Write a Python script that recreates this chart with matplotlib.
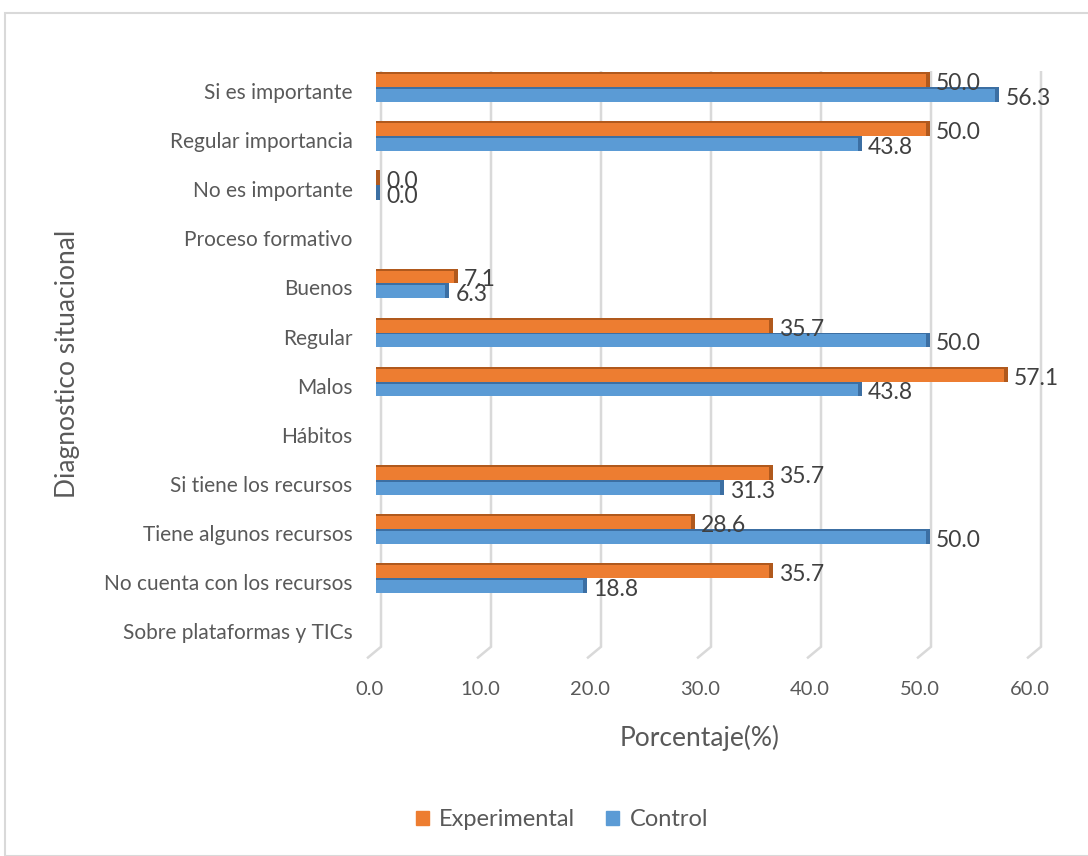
import numpy as np
import matplotlib
matplotlib.use("Agg")
import matplotlib.pyplot as plt
import matplotlib.transforms as mtrans
from matplotlib.patches import Rectangle, Patch

categories = ["Si es importante", "Regular importancia", "No es importante",
              "Proceso formativo", "Buenos", "Regular", "Malos", "Hábitos",
              "Si tiene los recursos", "Tiene algunos recursos",
              "No cuenta con los recursos", "Sobre plataformas y TICs"]
experimental = [50.0, 50.0, 0.0, np.nan, 7.1, 35.7, 57.1, np.nan, 35.7, 28.6, 35.7, np.nan]
control = [56.3, 43.8, 0.0, np.nan, 6.3, 50.0, 43.8, np.nan, 31.3, 50.0, 18.8, np.nan]
xticks = [0, 10, 20, 30, 40, 50, 60]

FONT = ["Lato", "DejaVu Sans"]
plt.rcParams['font.family'] = FONT

W, H = 1088, 856
fig = plt.figure(figsize=(W / 100, H / 100), dpi=100)
fig.patch.set_facecolor("white")

# chart border
fig.patches.append(Rectangle((5 / W, 0), 1.2, 1 - 13 / H, transform=fig.transFigure,
                             fill=False, edgecolor="#d9d9d9", linewidth=1.5, zorder=0))

x0, x60 = 376, 1036
yc0, step = 87, 49.1
top = yc0 - step / 2
bottom = yc0 + step * 11.5
ax = fig.add_axes([x0 / W, 1 - bottom / H, (x60 - x0) / W, (bottom - top) / H])
ax.set_xlim(0, 60)
ax.set_ylim(11.5, -0.5)
for s in ax.spines.values():
    s.set_visible(False)
ax.tick_params(length=0)

# gridlines with perspective foot
px = 60 / (x60 - x0)
for t in xticks:
    gx = t + 5 * px
    ax.plot([gx, gx, gx - 13 * px], [-0.3, 11.4, 11.62], color="#d9d9d9", lw=1.8,
            clip_on=False, zorder=0, solid_joinstyle="miter")

y = np.arange(len(categories))
bh = 0.30
exp = np.array(experimental)
ctl = np.array(control)
orange, orange_d = "#ed7d31", "#b0591d"
blue, blue_d = "#5b9bd5", "#3c6fa3"

side = 4 * px
for vals, col, dcol, off in [(exp, orange, orange_d, -bh), (ctl, blue, blue_d, 0.0)]:
    yy = y + off
    ax.barh(yy, vals, height=bh, align="edge", color=col, zorder=2)
    # top edge (3D)
    ax.barh(yy, vals, height=0.04, align="edge", color=dcol, zorder=3)
    # right side (3D)
    ax.barh(yy, np.full_like(vals, side), left=vals, height=bh, align="edge",
            color=dcol, zorder=3)
    for yi, v in zip(yy, vals):
        if np.isnan(v):
            continue
        ax.text(v + side + 6 * px, yi + bh / 2 + 0.08, f"{v:.1f}", va="center", ha="left",
                fontsize=16.5, color="#404040", zorder=4)

ax.set_yticks(y)
ax.set_yticklabels(categories, fontsize=15, color="#595959")
ax.tick_params(axis="y", pad=17)
for lab in ax.get_yticklabels():
    lab.set_transform(lab.get_transform() + mtrans.ScaledTranslation(0, -4 / 100, fig.dpi_scale_trans))

ax.set_xticks(xticks)
ax.set_xticklabels([f"{t:.1f}" for t in xticks], fontsize=14.5, color="#595959")
ax.tick_params(axis="x", pad=21)
for lab in ax.get_xticklabels():
    lab.set_transform(lab.get_transform() + mtrans.ScaledTranslation(-6 / 100, 0, fig.dpi_scale_trans))

fig.text(700 / W, 1 - 738 / H, "Porcentaje(%)", ha="center", va="center",
         fontsize=19, color="#595959")
fig.text(68 / W, 1 - 364 / H, "Diagnostico situacional", ha="center", va="center",
         rotation=90, fontsize=19, color="#595959")

# legend
handles = [Patch(color=orange, label="Experimental"), Patch(color=blue, label="Control")]
fig.legend(handles=handles, loc="center", bbox_to_anchor=(562 / W, 1 - 820 / H), ncol=2,
           frameon=False, fontsize=17, handlelength=0.55, handleheight=0.55,
           handletextpad=0.45, columnspacing=1.3, labelcolor="#595959")

fig.savefig("out.png", dpi=100, facecolor="white")
